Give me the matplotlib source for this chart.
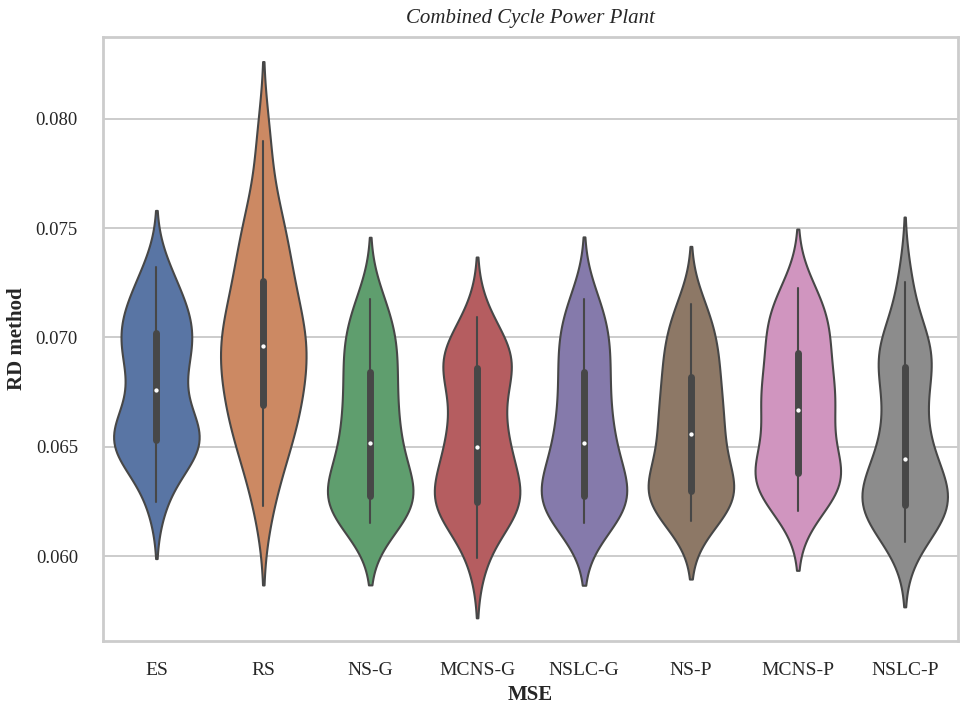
import numpy as np
import pandas as pd
import matplotlib
matplotlib.use("Agg")
import matplotlib.pyplot as plt
import seaborn as sns

methods = ['ES', 'RS', 'NS-G', 'MCNS-G', 'NSLC-G', 'NS-P', 'MCNS-P', 'NSLC-P']

# RD method error per run (min, q1, median, q3, max are at index 0, 5, 10, 15, 20)
es = [0.06250, 0.06400, 0.06450, 0.06480, 0.06510, 0.06530, 0.06550, 0.06580, 0.06620, 0.06680, 0.06760,
      0.06830, 0.06890, 0.06940, 0.06980, 0.07020, 0.07060, 0.07110, 0.07160, 0.07220, 0.07320]
rs = [0.06230, 0.06420, 0.06500, 0.06570, 0.06640, 0.06690, 0.06750, 0.06810, 0.06870, 0.06920, 0.06960,
      0.07000, 0.07050, 0.07100, 0.07170, 0.07260, 0.07330, 0.07410, 0.07510, 0.07610, 0.07900]
ns_g = [0.06150, 0.06185, 0.06210, 0.06235, 0.06255, 0.06276, 0.06310, 0.06360, 0.06410, 0.06465, 0.06519,
        0.06580, 0.06640, 0.06700, 0.06770, 0.06841, 0.06900, 0.06960, 0.07020, 0.07090, 0.07177]
mcns_g = [0.05993, 0.06170, 0.06200, 0.06220, 0.06235, 0.06246, 0.06300, 0.06350, 0.06400, 0.06450, 0.06498,
          0.06560, 0.06620, 0.06690, 0.06780, 0.06862, 0.06880, 0.06900, 0.06930, 0.06980, 0.07093]
nslc_g = [0.06150, 0.06180, 0.06210, 0.06240, 0.06260, 0.06276, 0.06310, 0.06360, 0.06410, 0.06460, 0.06519,
          0.06570, 0.06630, 0.06700, 0.06770, 0.06841, 0.06900, 0.06970, 0.07030, 0.07100, 0.07177]
ns_p = [0.06160, 0.06210, 0.06240, 0.06260, 0.06280, 0.06298, 0.06340, 0.06390, 0.06440, 0.06500, 0.06557,
        0.06600, 0.06650, 0.06700, 0.06760, 0.06821, 0.06880, 0.06940, 0.07000, 0.07070, 0.07152]
mcns_p = [0.06206, 0.06270, 0.06310, 0.06340, 0.06360, 0.06379, 0.06420, 0.06480, 0.06550, 0.06620, 0.06669,
          0.06710, 0.06750, 0.06790, 0.06860, 0.06928, 0.06980, 0.07040, 0.07090, 0.07150, 0.07225]
nslc_p = [0.06066, 0.06170, 0.06190, 0.06210, 0.06220, 0.06234, 0.06270, 0.06310, 0.06350, 0.06400, 0.06446,
          0.06520, 0.06600, 0.06680, 0.06770, 0.06867, 0.06900, 0.06930, 0.06970, 0.07050, 0.07253]

yticks = [0.060, 0.065, 0.070, 0.075, 0.080]

series = [es, rs, ns_g, mcns_g, nslc_g, ns_p, mcns_p, nslc_p]
df = pd.DataFrame({
    'method': np.repeat(methods, [len(s) for s in series]),
    'value': np.concatenate(series),
})

sns.set_theme(style='whitegrid')
plt.rcParams['font.family'] = ['Liberation Serif', 'DejaVu Serif']
plt.rcParams['axes.edgecolor'] = '#cccccc'
plt.rcParams['grid.color'] = '#cccccc'

fig = plt.figure(figsize=(9.62, 7.07), dpi=100)
ax = fig.add_axes([0.107, 0.093, 0.889, 0.855])

sns.violinplot(data=df, x='method', y='value', hue='method', palette='deep', legend=False,
               inner='box', density_norm='width', bw_method=0.43, cut=2,
               linewidth=1.5, linecolor='#474747',
               inner_kws=dict(box_width=5, whis_width=1.5, marker='.'), ax=ax)

ax.set_ylim(0.05611, 0.08375)
ax.set_yticks(yticks)
ax.set_yticklabels(['{:.3f}'.format(t) for t in yticks])
ax.tick_params(axis='both', length=0, labelsize=14)
ax.tick_params(axis='x', pad=15)
ax.tick_params(axis='y', pad=18, labelsize=13.5)
ax.grid(True, axis='y', linewidth=1.4)
ax.grid(False, axis='x')
for sp in ax.spines.values():
    sp.set_linewidth(2)
    sp.set_color('#cccccc')

ax.set_title('Combined Cycle Power Plant', fontsize=15, style='italic', pad=10)
ax.set_xlabel('MSE', fontsize=15, fontweight='bold', labelpad=4)
ax.set_ylabel('RD method', fontsize=15, fontweight='bold', labelpad=6)

plt.savefig('out.png', dpi=100)
